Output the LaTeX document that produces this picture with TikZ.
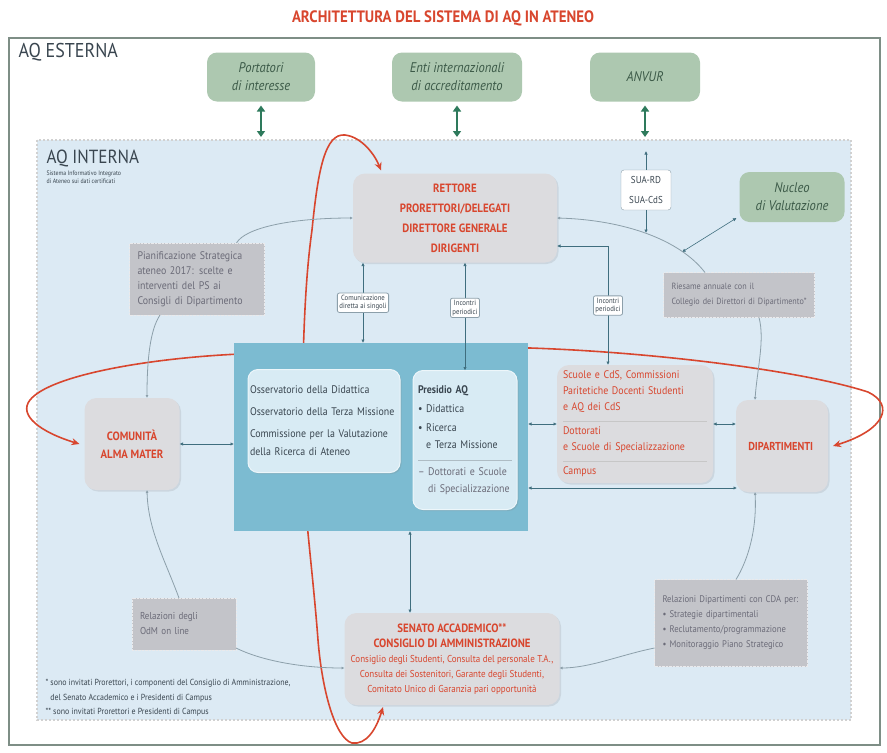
\documentclass[tikz,border=0pt]{standalone}
\usepackage{fontspec}
\setmainfont[FakeStretch=0.9]{PT Sans}
\usetikzlibrary{arrows.meta,positioning,shadows}

\definecolor{aqred}{HTML}{D8462E}
\definecolor{boxgray}{HTML}{DCDCDF}
\definecolor{notegray}{HTML}{C3C4C9}
\definecolor{notetext}{HTML}{6B6B78}
\definecolor{regionblue}{HTML}{DCEAF4}
\definecolor{tealblue}{HTML}{7CBBD1}
\definecolor{innerblue}{HTML}{D8EBF4}
\definecolor{linkteal}{HTML}{3F6E7E}
\definecolor{loopgray}{HTML}{8C9FAA}
\definecolor{extgreen}{HTML}{ADC8B0}
\definecolor{extgreentext}{HTML}{3C5A48}
\definecolor{arrowgreen}{HTML}{2E7A5C}
\definecolor{framegreen}{HTML}{7E8E86}
\definecolor{textdark}{HTML}{3A4650}

\pgfdeclarelayer{back}
\pgfsetlayers{back,main}

\begin{document}
\begin{tikzpicture}[
  x=1pt, y=-1pt,
  font=\fontsize{10}{12}\selectfont,
  main box/.style={
    rounded corners=12pt,
    fill=boxgray,
    text=aqred,
    align=center,
    inner sep=3pt,
    outer sep=0pt,
    drop shadow={opacity=0.18,shadow xshift=1.5pt,shadow yshift=-1.5pt}
  },
  inner box/.style={
    rounded corners=10pt,
    fill=innerblue,
    draw=white!55!innerblue,
    line width=1pt,
    align=left,
    text=textdark,
    inner sep=5pt,
    outer sep=0pt,
    drop shadow={opacity=0.2,shadow xshift=1.5pt,shadow yshift=-1.5pt}
  },
  ext box/.style={
    rounded corners=10pt,
    fill=extgreen,
    text=extgreentext,
    align=center,
    minimum height=49pt,
    inner sep=3pt,
    outer sep=0pt,
    font=\itshape\fontsize{14}{18}\selectfont
  },
  note box/.style={
    rectangle,
    fill=notegray,
    draw=white!65!notegray,
    densely dotted,
    text=notetext,
    align=left,
    inner xsep=8pt,
    outer sep=0pt,
    font=\fontsize{9}{15}\selectfont
  },
  link label/.style={
    fill=white,
    draw=loopgray,
    solid,
    rounded corners=2pt,
    text=textdark,
    align=center,
    inner sep=2pt,
    font=\fontsize{7.5}{8.5}\selectfont
  },
  link/.style={
    {Latex[length=3.5pt,width=3.5pt]}-{Latex[length=3.5pt,width=3.5pt]},
    draw=linkteal,
    line width=0.8pt
  },
  loop line/.style={
    draw=loopgray,
    line width=0.8pt
  },
  red loop/.style={
    {Stealth[length=8pt,width=7pt]}-{Stealth[length=8pt,width=7pt]},
    draw=aqred,
    line width=1.6pt
  },
  green link/.style={
    {Triangle[length=6pt,width=8pt]}-{Triangle[length=6pt,width=8pt]},
    draw=arrowgreen,
    line width=2.2pt
  }
]

\useasboundingbox (0,0) rectangle (887,753);

\begin{pgfonlayer}{back}
  \fill[white] (0,0) rectangle (887,753);
  \draw[draw=framegreen,line width=1.5pt] (9,38) rectangle (880,745);
  \draw[fill=regionblue,draw=black!18,line width=1.2pt,
    dash pattern=on 2pt off 2pt] (37,140) rectangle (851,720);
\end{pgfonlayer}

\node[font=\bfseries\fontsize{16.5}{18}\selectfont,text=aqred] (title)
  at (443,18) {ARCHITETTURA DEL SISTEMA DI AQ IN ATENEO};

\node[anchor=west,text=textdark,font=\fontsize{20}{22}\selectfont]
  (aq-esterna) at (15,52) {AQ ESTERNA};

\node[ext box,minimum width=108pt] (portatori) at (261,77) {
  Portatori\\
  di interesse
};
\node[ext box,minimum width=130pt] (enti) at (457,77) {
  Enti internazionali\\
  di accreditamento
};
\node[ext box,minimum width=110pt] (anvur) at (645,77) {ANVUR};

\coordinate (portatori-in) at (261,137);
\coordinate (enti-in) at (457,137);
\coordinate (anvur-in) at (645,137);

\draw[green link,shorten <=4pt] (portatori.south) -- (portatori-in);
\draw[green link,shorten <=4pt] (enti.south) -- (enti-in);
\draw[green link,shorten <=4pt] (anvur.south) -- (anvur-in);

\node[anchor=west,text=textdark,font=\fontsize{19}{21}\selectfont]
  (aq-interna) at (43,158) {AQ INTERNA};
\node[anchor=north west,align=left,text=textdark,inner ysep=1pt,
  font=\fontsize{6.5}{7.5}\selectfont]
  (aq-interna-sub) at (aq-interna.south west) {
  Sistema Informativo Integrato\\
  di Ateneo sui dati certificati
};

\node[main box,minimum width=204pt,minimum height=89pt,
  font=\bfseries\fontsize{12}{20}\selectfont] (rettore) at (455,218) {
  RETTORE\\
  PRORETTORI/DELEGATI\\
  DIRETTORE GENERALE\\
  DIRIGENTI
};

\node[fill=white,draw=loopgray,rounded corners=3pt,align=center,
  text=textdark,minimum width=50pt,minimum height=40pt,
  font=\fontsize{10}{20}\selectfont] (sua) at (646,190) {
  SUA-RD\\
  SUA-CdS
};

\node[ext box,minimum width=105pt,minimum height=50pt] (nucleo) at (792,197) {
  Nucleo\\
  di Valutazione
};

\node[note box,text width=119pt,minimum height=72pt,
  font=\fontsize{11}{15}\selectfont] (piano) at (197,279) {
  Pianificazione Strategica\\
  ateneo 2017: scelte e\\
  interventi del PS ai\\
  Consigli di Dipartimento
};
\node[note box,text width=135pt,minimum height=45pt,
  font=\fontsize{9}{15}\selectfont] (riesame) at (739,295) {
  Riesame annuale con il\\
  Collegio dei Direttori di Dipartimento*
};

\node[main box,minimum width=95pt,minimum height=92pt,
  font=\bfseries\fontsize{12}{18}\selectfont] (comunita) at (132,444) {
  COMUNITÀ\\
  ALMA MATER
};
\node[main box,minimum width=92pt,minimum height=92pt,
  font=\bfseries\fontsize{11.5}{18}\selectfont] (dipartimenti) at (782,446) {
  DIPARTIMENTI
};

\node[fill=tealblue,minimum width=294pt,minimum height=188pt,
  inner sep=0pt,outer sep=0pt] (presidio-area) at (381,437) {};

\node[inner box,text width=148pt,minimum height=103pt,inner xsep=2pt,
  font=\fontsize{11}{18}\selectfont] (osservatori) at (324,421) {
  Osservatorio della Didattica\\[4pt]
  Osservatorio della Terza Missione\\[4pt]
  Commissione per la Valutazione\\
  della Ricerca di Ateneo
};
\node[inner box,text width=94pt,minimum height=139pt,
  font=\fontsize{11}{17}\selectfont] (presidio) at (465,440) {
  \textbf{Presidio AQ}\\[2pt]
  \textbullet\ Didattica\\[2pt]
  \textbullet\ Ricerca\\
  \hphantom{\textbullet\ }e Terza Missione\\[-5pt]
  \textcolor{loopgray!70}{\rule{94pt}{0.8pt}}\\[-2pt]
  \textcolor{notetext}{-- Dottorati e Scuole}\\
  \textcolor{notetext}{\hphantom{-- }di Specializzazione}
};

\node[main box,text width=144pt,minimum height=118pt,align=left,
  inner xsep=6pt,font=\fontsize{11}{16}\selectfont] (scuole) at (635,424) {
  Scuole e CdS, Commissioni\\
  Paritetiche Docenti Studenti\\
  e AQ dei CdS\\[-5pt]
  \textcolor{black!22}{\rule{144pt}{0.8pt}}\\[-3pt]
  Dottorati\\
  e Scuole di Specializzazione\\[-5pt]
  \textcolor{black!22}{\rule{144pt}{0.8pt}}\\[-3pt]
  Campus
};

\node[note box,text width=88pt,minimum height=52pt,
  font=\fontsize{10}{15}\selectfont] (relazioni-odm) at (184,624) {
  Relazioni degli\\
  OdM on line
};
\node[note box,text width=137pt,minimum height=87pt,
  font=\fontsize{9.6}{15}\selectfont] (relazioni-dip) at (731,623) {
  Relazioni Dipartimenti con CDA per:\\
  \textbullet\ Strategie dipartimentali\\
  \textbullet\ Reclutamento/programmazione\\
  \textbullet\ Monitoraggio Piano Strategico
};

\node[main box,minimum width=215pt,minimum height=92pt,
  font=\fontsize{10}{15}\selectfont] (senato) at (452,659) {
  \textbf{\fontsize{12}{15}\selectfont SENATO ACCADEMICO**}\\
  \textbf{\fontsize{12}{15}\selectfont CONSIGLIO DI AMMINISTRAZIONE}\\
  Consiglio degli Studenti, Consulta del personale T.A.,\\
  Consulta dei Sostenitori, Garante degli Studenti,\\
  Comitato Unico di Garanzia pari opportunità
};

\node[anchor=north west,align=left,text=textdark,
  font=\fontsize{8.8}{14.5}\selectfont] (footnotes) at (42,676) {
  * sono invitati Prorettori, i componenti del Consiglio di Amministrazione,\\
  \hphantom{* }del Senato Accademico e i Presidenti di Campus\\
  ** sono invitati Prorettori e Presidenti di Campus
};

\coordinate (sua-top) at (646,151);
\coordinate (sua-bottom) at (646,233);
\coordinate (loop-nucleo) at (682,252);
\coordinate (dip-low) at (737,488);

\draw[link,line width=0.6pt,-{Latex[length=3.5pt,width=3.5pt]}] (sua.north) -- (sua-top);
\draw[link,line width=0.6pt,-{Latex[length=3.5pt,width=3.5pt]}] (sua.south) -- (sua-bottom);
\draw[link,line width=0.6pt] ([shift={(-3pt,4pt)}]nucleo.south west) -- (loop-nucleo);

\draw[link] ([xshift=-92pt]rettore.south) -- ([xshift=-92pt]rettore.south |- presidio-area.north)
  node[link label,midway] {Comunicazione\\diretta ai singoli};
\draw[link] (presidio.north |- rettore.south) -- (presidio.north)
  node[link label,pos=0.42] {Incontri\\periodici};
\draw[link] ([yshift=-28pt]rettore.east) -| ([xshift=-27pt]scuole.north)
  node[link label,pos=0.75] {Incontri\\periodici};

\draw[link] (comunita.east) -- (comunita.east -| presidio-area.west);
\draw[link] (scuole.west -| presidio-area.east) -- (scuole.west);
\draw[link] (scuole.east) -- (scuole.east -| dipartimenti.west);
\draw[link] (presidio-area.east |- dip-low) -- (dip-low);
\draw[link] ([xshift=29pt]presidio-area.south) -- ([xshift=29pt]presidio-area.south |- senato.north);

\draw[loop line,-{Latex[length=3pt,width=3pt]}] ([xshift=-28pt]piano.north east)
  .. controls (245,228) and (290,218) .. (rettore.west);
\draw[loop line,{Latex[length=3pt,width=3pt]}-] (rettore.east)
  .. controls (625,220) and (680,240) .. ([xshift=-34pt]riesame.north);
\draw[loop line,-{Latex[length=3pt,width=3pt]}] ([xshift=20pt]riesame.south)
  .. controls (765,340) and (757,370) .. ([xshift=-27pt]dipartimenti.north);
\draw[loop line,{Latex[length=3pt,width=3pt]}-] ([xshift=-27pt]dipartimenti.south)
  .. controls (757,530) and (748,560) .. ([xshift=5pt]relazioni-dip.north);
\draw[loop line,-{Latex[length=3pt,width=3pt]}] ([yshift=-25pt]relazioni-dip.west)
  .. controls (620,655) and (590,668) .. ([yshift=-9pt]senato.east);
\draw[loop line,{Latex[length=3pt,width=3pt]}-] ([yshift=-9pt]senato.west)
  .. controls (300,668) and (260,660) .. ([yshift=-24pt]relazioni-odm.east);
\draw[loop line,-{Latex[length=3pt,width=3pt]}] ([xshift=-5pt]relazioni-odm.north)
  .. controls (165,560) and (148,530) .. ([xshift=15pt]comunita.south);
\draw[loop line,{Latex[length=3pt,width=3pt]}-] ([xshift=15pt]comunita.north)
  .. controls (147,360) and (150,330) .. ([xshift=-37pt]piano.south);

\begin{pgfonlayer}{back}
  \draw[red loop] ([xshift=-69pt,yshift=-2pt]senato.south)
    .. controls (376,730) and (366,745) .. (352,743)
    .. controls (335,738) and (322,690) .. (318,640)
    .. controls (312,560) and (300,480) .. (302,420)
    .. controls (303,340) and (305,280) .. (312,230)
    .. controls (318,170) and (325,133) .. (345,135)
    .. controls (362,137) and (375,155) .. ([xshift=28pt,yshift=3pt]rettore.north west);
  \draw[red loop] ([xshift=-5pt]comunita.west)
    .. controls (40,432) and (18,415) .. (30,400)
    .. controls (50,375) and (150,358) .. (240,354)
    .. controls (330,350) and (440,346) .. (530,348)
    .. controls (650,352) and (800,370) .. (868,392)
    .. controls (895,405) and (885,430) .. ([xshift=5pt]dipartimenti.east);
\end{pgfonlayer}

\end{tikzpicture}
\end{document}
